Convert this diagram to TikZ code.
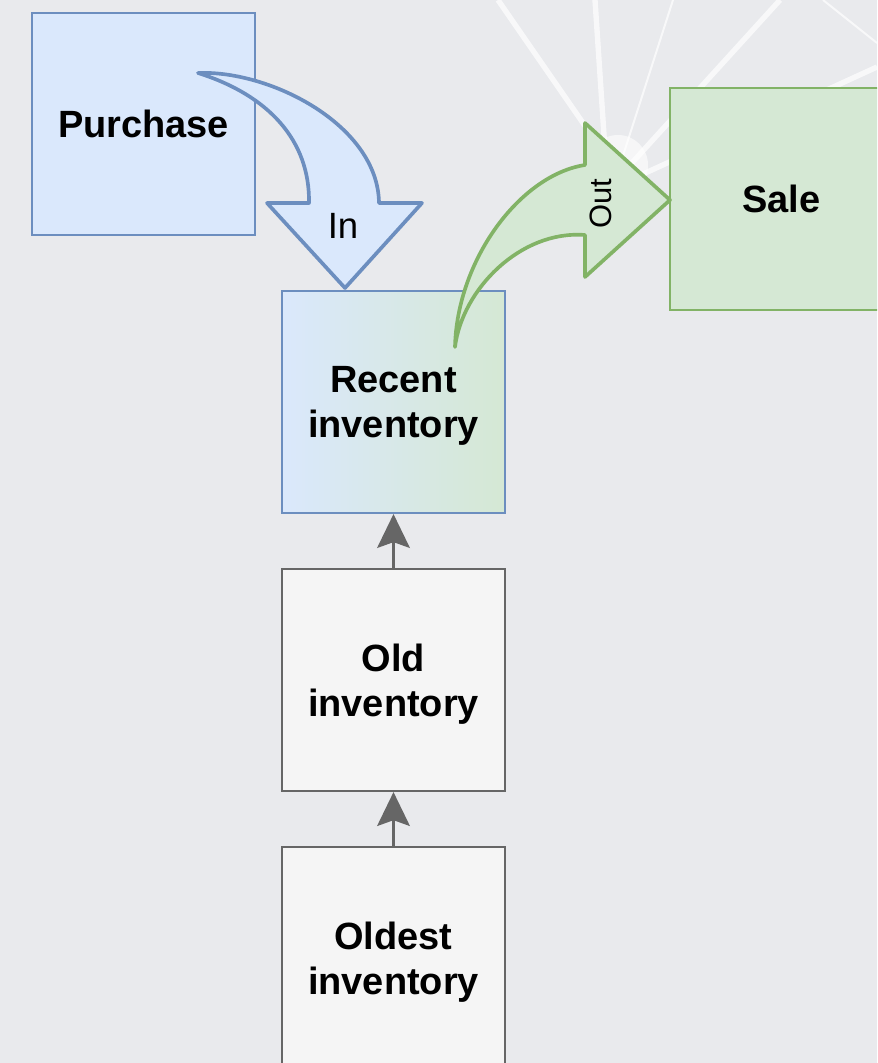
\documentclass[tikz,border=0pt]{standalone}
\usepackage{fontspec}
\setmainfont{Liberation Sans}
\usetikzlibrary{arrows.meta,positioning}
\definecolor{pagegray}{HTML}{E9EAED}
\definecolor{bluefill}{HTML}{DAE8FC}
\definecolor{bluedraw}{HTML}{6C8EBF}
\definecolor{greenfill}{HTML}{D5E8D4}
\definecolor{greendraw}{HTML}{82B366}
\definecolor{stockfill}{HTML}{F5F5F5}
\definecolor{stockdraw}{HTML}{666666}

\begin{document}
\begin{tikzpicture}[
      x=0.025cm, y=-0.025cm,
      box/.style={draw, minimum width=5.575cm, minimum height=5.55cm, inner sep=0pt,
                  line width=1.4pt, align=center, text=black, text depth=0pt,
                  font=\fontsize{27}{32}\selectfont\bfseries},
      arr/.style={-{Stealth[length=24pt,width=23pt,inset=4pt]}, line width=2.8pt, draw=stockdraw},
      bigarrow/.style={line width=2.6pt, line join=round},
      bgline/.style={draw=white, opacity=0.7, line width=3.8pt},
      bgthin/.style={draw=white, opacity=0.7, line width=1.4pt},
      node distance=1.35cm
    ]
      \useasboundingbox (0,0) rectangle (877,1063);
      \clip (0,0) rectangle (877,1063);
      \fill[pagegray] (0,0) rectangle (877,1063);

      % background rays
      \fill[white, opacity=0.6] (618,165) circle (30);
      \draw[bgline] (498,0) -- (612,165);
      \draw[bgline] (595,0) -- (606,165);
      \draw[bgthin] (673,0) -- (620,165);
      \draw[bgline] (780,0) -- (630,165);
      \draw[bgthin] (823,0) -- (877,43);
      \draw[bgline] (877,67) -- (630,180);

      % boxes
      \node[box, fill=bluefill, draw=bluedraw] (purchase) at (143.5,124) {Purchase};
      \node[box, fill=greenfill, draw=greendraw] (sale) at (781.5,199) {Sale};
      \node[box, left color=bluefill, right color=greenfill, draw=bluedraw] (recent) at (393.5,402) {Recent\\inventory};
      \node[box, fill=stockfill, draw=stockdraw, below=of recent] (old) {Old\\inventory};
      \node[box, fill=stockfill, draw=stockdraw, below=of old] (oldest) {Oldest\\inventory};

      \draw[arr] (old) -- (recent);
      \draw[arr] (oldest) -- (old);

      % bent arrows
      \draw[bigarrow, draw=bluedraw, fill=bluefill]
        (198,73) .. controls (270,70) and (378,125) .. (379,203)
        -- (422,203) -- (345,288) -- (267,203) -- (309,203)
        .. controls (310,140) and (268,95) .. (198,73) -- cycle;
      \node[font=\fontsize{26}{30}\selectfont] (inlbl) at (343,226) {In};

      \draw[bigarrow, draw=greendraw, fill=greenfill]
        (455,347) .. controls (457,260) and (520,175) .. (585,165)
        -- (585,123) -- (670,200) -- (585,277) -- (585,235)
        .. controls (520,230) and (462,290) .. (455,347) -- cycle;
      \node[font=\fontsize{22}{26}\selectfont, rotate=90] (outlbl) at (601,204) {Out};
    \end{tikzpicture}
\end{document}
